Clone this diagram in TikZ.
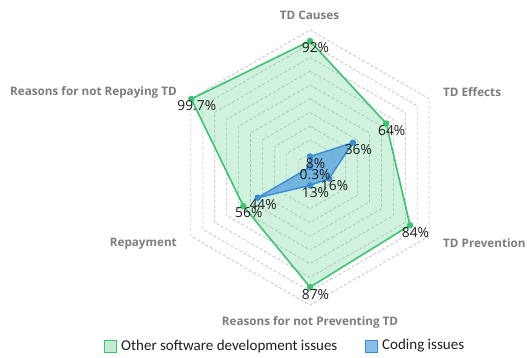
\documentclass[tikz,border=0pt]{standalone}
\usepackage{fontspec}
\setmainfont{Carlito}
\newfontfamily\axisfont{Open Sans}
\definecolor{otherline}{RGB}{61,196,111}
\definecolor{otherfill}{RGB}{120,215,160}
\definecolor{codeline}{RGB}{58,140,212}
\definecolor{codefill}{RGB}{86,162,226}
\definecolor{gridgray}{RGB}{185,185,185}
\definecolor{axisgray}{RGB}{125,125,125}
\definecolor{pcttext}{RGB}{30,30,30}
\tikzset{
  gridring/.style={draw=gridgray, line width=0.6pt, dash pattern=on 3pt off 2pt},
  otherarea/.style={draw=otherline, line width=1.6pt, fill=otherfill, fill opacity=0.35, line join=round},
  codearea/.style={draw=codeline, line width=1.4pt, fill=codefill, fill opacity=0.75, line join=round},
  otherdot/.style={circle, fill=otherline, inner sep=0pt, minimum size=6.5pt},
  codedot/.style={circle, fill=codeline, inner sep=0pt, minimum size=6.5pt},
  pct/.style={font=\axisfont\fontsize{13.8}{14}\selectfont, text=pcttext, inner sep=0pt, xshift=5.5pt, yshift=-7pt},
  axislabel/.style={font=\axisfont\bfseries\fontsize{11.7}{13}\selectfont, text=axisgray, inner sep=0pt},
  legendtext/.style={font=\fontsize{15}{15}\selectfont, text=pcttext, inner sep=0pt, anchor=west}
}
\begin{document}
\begin{tikzpicture}[x=1pt, y=-1pt]
\useasboundingbox (0,0) rectangle (527,358);
\fill[white] (0,0) rectangle (527,358);

\begin{scope}[shift={(310,167.5)}, y=1pt]
  % concentric dashed grid rings, 10% steps
  \foreach \k in {1,...,10}{
    \draw[gridring] (90:{\k*13.75}) -- (30:{\k*13.75}) -- (-30:{\k*13.75})
      -- (-90:{\k*13.75}) -- (210:{\k*13.75}) -- (150:{\k*13.75}) -- cycle;
  }
  % data points: other software development issues
  \coordinate (g1) at (90:{0.92*137.5});
  \coordinate (g2) at (30:{0.64*137.5});
  \coordinate (g3) at (-30:{0.84*137.5});
  \coordinate (g4) at (-90:{0.87*137.5});
  \coordinate (g5) at (210:{0.56*137.5});
  \coordinate (g6) at (150:{0.997*137.5});
  % data points: coding issues
  \coordinate (b1) at (90:{0.08*137.5});
  \coordinate (b2) at (30:{0.36*137.5});
  \coordinate (b3) at (-30:{0.16*137.5});
  \coordinate (b4) at (-90:{0.13*137.5});
  \coordinate (b5) at (210:{0.44*137.5});
  \coordinate (b6) at (150:{0.003*137.5});

  \draw[otherarea] (g1) -- (g2) -- (g3) -- (g4) -- (g5) -- (g6) -- cycle;
  \draw[codearea] (b1) -- (b2) -- (b3) -- (b4) -- (b5) -- (b6) -- cycle;

  \foreach \p in {g1,g2,g3,g4,g5,g6} \node[otherdot] (d\p) at (\p) {};
  \foreach \p in {b1,b2,b3,b4,b5,b6} \node[codedot] (d\p) at (\p) {};

  \node[pct] (pg1) at (g1) {92\%};
  \node[pct] (pg2) at (g2) {64\%};
  \node[pct] (pg3) at (g3) {84\%};
  \node[pct] (pg4) at (g4) {87\%};
  \node[pct] (pg5) at (g5) {56\%};
  \node[pct] (pg6) at (g6) {99.7\%};
  \node[pct] (pb1) at (b1) {8\%};
  \node[pct] (pb2) at (b2) {36\%};
  \node[pct] (pb3) at (b3) {16\%};
  \node[pct] (pb4) at (b4) {13\%};
  \node[pct] (pb5) at (b5) {44\%};
  \node[pct] (pb6) at (b6) {0.3\%};
\end{scope}

% axis names
\node[axislabel] (causes) at (309.5,15) {TD Causes};
\node[axislabel, anchor=west] (effects) at (443,92) {TD Effects};
\node[axislabel, anchor=west] (prevention) at (443,243) {TD Prevention};
\node[axislabel] (notprev) at (310,322) {Reasons for not Preventing TD};
\node[axislabel, anchor=east] (repay) at (177,244) {Repayment};
\node[axislabel, anchor=east] (notrepay) at (177,92) {Reasons for not Repaying TD};

% legend
\node[draw=otherline, line width=1pt, fill=otherfill!45, minimum size=12pt, inner sep=0pt] (keyother) at (110,346) {};
\node[legendtext] (txtother) at (121,346) {Other software development issues};
\node[draw=codeline, line width=1pt, fill=codefill!70, minimum size=12pt, inner sep=0pt] (keycode) at (371,346) {};
\node[legendtext] (txtcode) at (382,346) {Coding issues};
\end{tikzpicture}
\end{document}
